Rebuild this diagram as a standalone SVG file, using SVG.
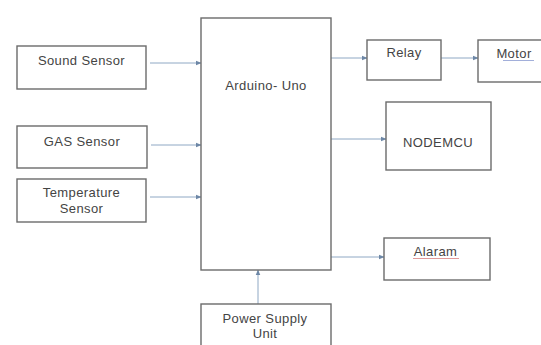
<svg xmlns="http://www.w3.org/2000/svg" width="541" height="345" viewBox="0 0 541 345">
<defs>
<style>
.box{fill:#ffffff;stroke:#6b6b6b;stroke-width:1.4}
.t{font-family:"Liberation Sans","Open Sans",sans-serif;font-size:13px;letter-spacing:0.4px;fill:#444444;text-anchor:middle}
.c{stroke:#8fa8c4;stroke-width:1;fill:none;marker-end:url(#ah)}
</style>
<marker id="ah" viewBox="0 0 10 10" refX="9" refY="5" markerWidth="6" markerHeight="6" markerUnits="userSpaceOnUse" orient="auto">
<path d="M0,1 L10,5 L0,9 z" fill="#6d87a6"/>
</marker>
</defs>
<rect width="541" height="345" fill="#ffffff"/>
<g id="connectors">
<line class="c" x1="150" y1="63" x2="201" y2="63"/>
<line class="c" x1="151" y1="145" x2="201" y2="145"/>
<line class="c" x1="150" y1="197" x2="201" y2="197"/>
<line class="c" x1="331" y1="58" x2="367" y2="58"/>
<line class="c" x1="441" y1="58" x2="478" y2="58"/>
<line class="c" x1="331" y1="139" x2="386" y2="139"/>
<line class="c" x1="331" y1="257" x2="384" y2="257"/>
<line class="c" x1="258" y1="304" x2="258" y2="270"/>
</g>
<g id="sound-sensor">
<rect class="box" x="17" y="46" width="129" height="43"/>
<text class="t" x="81.5" y="65">Sound Sensor</text>
</g>
<g id="gas-sensor">
<rect class="box" x="17" y="126" width="130" height="42"/>
<text class="t" x="82" y="146">GAS Sensor</text>
</g>
<g id="temperature-sensor">
<rect class="box" x="17" y="179" width="129" height="43"/>
<text class="t" x="81.5" y="197">Temperature</text>
<text class="t" x="81.5" y="213">Sensor</text>
</g>
<g id="arduino-uno">
<rect class="box" x="201" y="18" width="130" height="252"/>
<text class="t" x="266" y="90">Arduino- Uno</text>
</g>
<g id="relay">
<rect class="box" x="367" y="40" width="74" height="40"/>
<text class="t" x="404" y="57">Relay</text>
</g>
<g id="motor">
<rect class="box" x="478" y="40" width="66" height="42"/>
<text class="t" x="514" y="58">Motor</text>
<line x1="503" y1="60.5" x2="534" y2="60.5" stroke="#8a9ad0" stroke-width="0.8"/>
</g>
<g id="nodemcu">
<rect class="box" x="386" y="102" width="105" height="68"/>
<text class="t" x="438" y="147">NODEMCU</text>
</g>
<g id="alaram">
<rect class="box" x="384" y="238" width="106" height="42"/>
<text class="t" x="435.5" y="256">Alaram</text>
<line x1="413" y1="258.5" x2="459" y2="258.5" stroke="#d88080" stroke-width="0.8"/>
</g>
<g id="power-supply-unit">
<rect class="box" x="201" y="304" width="130" height="50"/>
<text class="t" x="265" y="323">Power Supply</text>
<text class="t" x="265" y="338">Unit</text>
</g>
</svg>
